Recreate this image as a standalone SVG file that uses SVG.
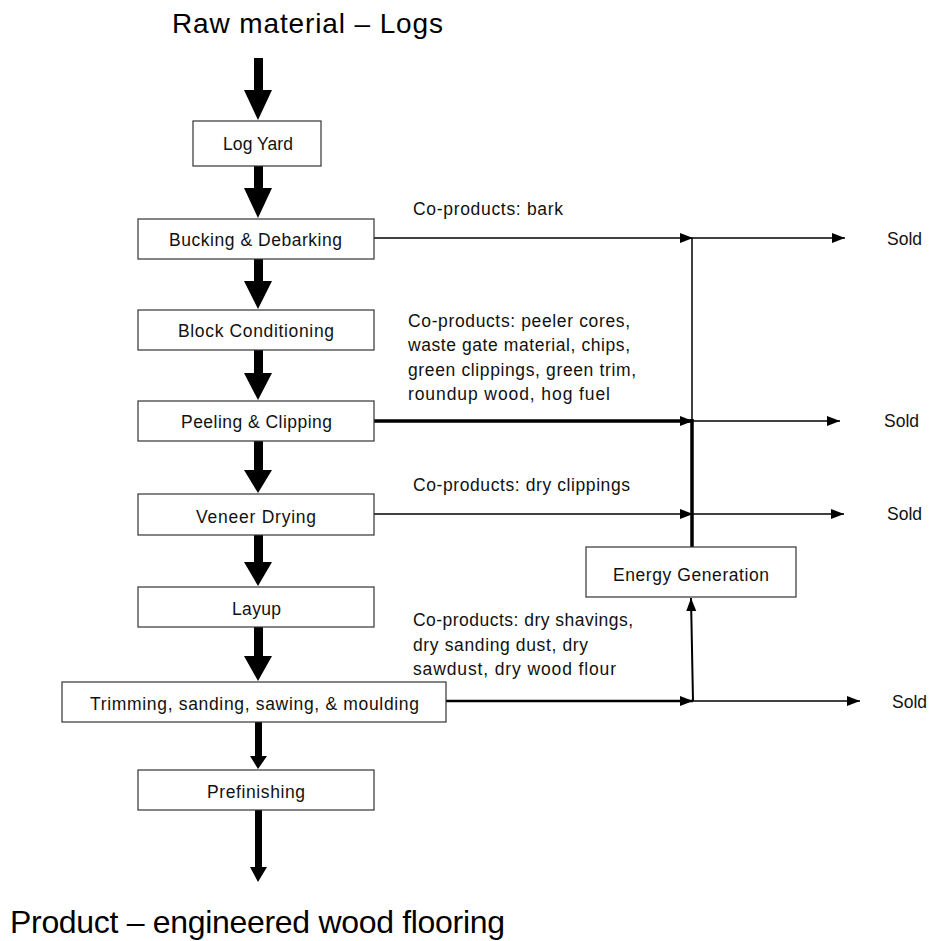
<svg xmlns="http://www.w3.org/2000/svg" width="930" height="941" viewBox="0 0 930 941">
<style>
.box{fill:#fff;stroke:#333;stroke-width:1.2}
.t{font-family:"Liberation Sans",Arial,sans-serif;font-size:17.5px;fill:#111}
.c{text-anchor:middle}
.big{font-family:"Liberation Sans",Arial,sans-serif;fill:#000}
.ln{stroke:#000;fill:none}
.fat{fill:#000}
</style>
<defs>
<marker id="ah" markerUnits="userSpaceOnUse" markerWidth="14" markerHeight="12" refX="13" refY="6" orient="auto">
<path d="M0,1 L13,6 L0,11 Z" fill="#000"/>
</marker>
</defs>
<rect width="930" height="941" fill="#fff"/>
<text class="big" x="172" y="33" font-size="28" textLength="271">Raw material – Logs</text>
<text class="big" x="10" y="933" font-size="32" textLength="495">Product – engineered wood flooring</text>
<g id="connectors">
<polygon class="fat" points="254,58 263,58 263,90 272,90 258,120 244,90 254,90"/>
<polygon class="fat" points="254,166 263,166 263,188 272,188 258,218 244,188 254,188"/>
<polygon class="fat" points="254,259 263,259 263,281 272,281 258,309 244,281 254,281"/>
<polygon class="fat" points="254,350 263,350 263,373 272,373 258,400 244,373 254,373"/>
<polygon class="fat" points="254,441 263,441 263,470 272,470 258,493 244,470 254,470"/>
<polygon class="fat" points="254,535 263,535 263,562 272,562 258,586 244,562 254,562"/>
<polygon class="fat" points="254,627 263,627 263,656 272,656 258,681 244,656 254,656"/>
<polygon class="fat" points="255,722 262,722 262,756 267,756 258,769 250,756 255,756"/>
<polygon class="fat" points="255,810 262,810 262,867 267,867 258,882 250,867 255,867"/>
<line class="ln" x1="374" y1="238" x2="693" y2="238" stroke-width="1.5" marker-end="url(#ah)"/>
<line class="ln" x1="693" y1="238" x2="845" y2="238" stroke-width="1.5" marker-end="url(#ah)"/>
<line class="ln" x1="374" y1="421" x2="693" y2="421" stroke-width="3.5" marker-end="url(#ah)"/>
<line class="ln" x1="693" y1="421" x2="840" y2="421" stroke-width="1.5" marker-end="url(#ah)"/>
<line class="ln" x1="374" y1="514" x2="693" y2="514" stroke-width="1.5" marker-end="url(#ah)"/>
<line class="ln" x1="693" y1="514" x2="844" y2="514" stroke-width="1.5" marker-end="url(#ah)"/>
<line class="ln" x1="446" y1="701" x2="693" y2="701" stroke-width="2.5" marker-end="url(#ah)"/>
<line class="ln" x1="693" y1="701" x2="860" y2="701" stroke-width="1.5" marker-end="url(#ah)"/>
<line class="ln" x1="692" y1="238" x2="692" y2="421" stroke-width="1.5"/>
<line class="ln" x1="692" y1="419" x2="692" y2="547" stroke-width="3.5"/>
<line class="ln" x1="693" y1="701" x2="691" y2="598" stroke-width="2" marker-end="url(#ah)"/>
</g>
<g id="n-logyard"><rect class="box" x="193" y="121" width="128" height="45"/><text class="t c" x="258" y="150" textLength="70">Log Yard</text></g>
<g id="n-bucking"><rect class="box" x="138" y="219" width="236" height="40"/><text class="t c" x="255.5" y="246" textLength="173">Bucking &amp; Debarking</text></g>
<g id="n-block"><rect class="box" x="138" y="310" width="236" height="40"/><text class="t c" x="256" y="337" textLength="156">Block Conditioning</text></g>
<g id="n-peeling"><rect class="box" x="138" y="401" width="236" height="40"/><text class="t c" x="256.5" y="428" textLength="151">Peeling &amp; Clipping</text></g>
<g id="n-veneer"><rect class="box" x="138" y="494" width="236" height="41"/><text class="t c" x="256" y="523" textLength="120">Veneer Drying</text></g>
<g id="n-layup"><rect class="box" x="138" y="587" width="236" height="40"/><text class="t c" x="256.5" y="615" textLength="49">Layup</text></g>
<g id="n-trimming"><rect class="box" x="62" y="682" width="384" height="40"/><text class="t c" x="254.5" y="710" textLength="329">Trimming, sanding, sawing, &amp; moulding</text></g>
<g id="n-prefinishing"><rect class="box" x="138" y="770" width="236" height="40"/><text class="t c" x="256" y="798" textLength="98">Prefinishing</text></g>
<g id="n-energy"><rect class="box" x="586" y="547" width="210" height="50"/><text class="t c" x="691" y="581" textLength="156">Energy Generation</text></g>
<g id="labels">
<text class="t" x="413" y="215" textLength="150">Co-products: bark</text>
<text class="t" x="408" y="327" textLength="222">Co-products: peeler cores,</text>
<text class="t" x="408" y="351" textLength="222">waste gate material, chips,</text>
<text class="t" x="408" y="376" textLength="228">green clippings, green trim,</text>
<text class="t" x="408" y="400" textLength="202">roundup wood, hog fuel</text>
<text class="t" x="413" y="491" textLength="217">Co-products: dry clippings</text>
<text class="t" x="413" y="626" textLength="220">Co-products: dry shavings,</text>
<text class="t" x="413" y="651" textLength="175">dry sanding dust, dry</text>
<text class="t" x="413" y="675" textLength="203">sawdust, dry wood flour</text>
<text class="t" x="887" y="245" textLength="35">Sold</text>
<text class="t" x="884" y="427" textLength="35">Sold</text>
<text class="t" x="887" y="520" textLength="35">Sold</text>
<text class="t" x="892" y="708" textLength="35">Sold</text>
</g>
</svg>
